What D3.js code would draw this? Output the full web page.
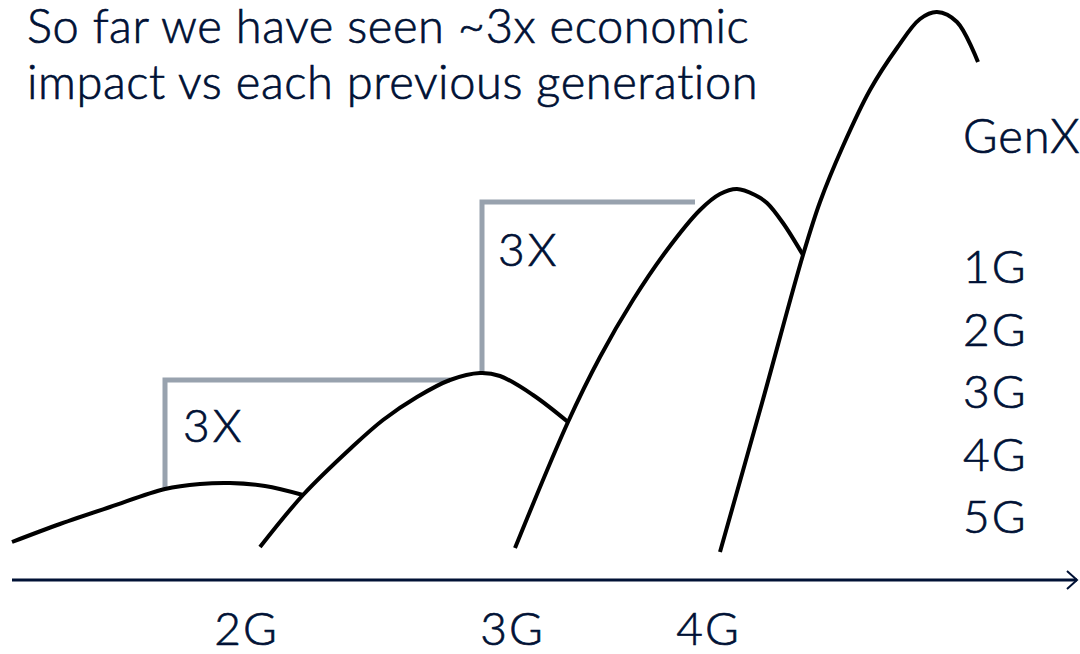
<!DOCTYPE html>
<html>
<head>
<meta charset="utf-8">
<script src="https://cdn.jsdelivr.net/npm/d3@7"></script>
<style>
  html, body { margin: 0; padding: 0; background: #ffffff; }
  svg { display: block; }
  text {
    font-family: Lato, "Open Sans", "Noto Sans", sans-serif;
    font-weight: 300;
    fill: #001135;
    stroke: #001135;
    stroke-width: 0.7px;
  }
</style>
</head>
<body>
<svg id="chart" width="1080" height="654"></svg>
<script>
// Generation waves: [time, economic impact] pairs (arbitrary units)
const wave2G = [[1.2,3.8],[6.0,5.6],[11.0,7.3],[16.5,9.1],[20.0,9.6],[23.0,9.7],[26.5,9.4],[30.3,8.5]];
const wave3G = [[26.0,3.3],[30.3,8.5],[35.0,13.1],[38.3,16.0],[41.7,18.3],[45.0,20.0],[48.0,20.7],[50.0,20.4],[53.3,18.5],[56.8,15.8]];
const wave4G = [[51.5,3.2],[56.8,15.8],[60.0,22.3],[63.3,28.0],[66.7,33.0],[70.0,37.0],[72.0,38.6],[73.7,39.1],[75.5,38.5],[76.7,37.7],[78.3,35.7],[80.3,32.5]];
const wave5G = [[72.0,2.8],[76.2,17.7],[80.3,32.5],[82.0,37.8],[84.3,43.4],[87.0,49.0],[89.7,53.2],[92.0,56.1],[93.7,56.8],[95.7,55.8],[97.8,51.8]];
const waves = [wave2G, wave3G, wave4G, wave5G];

// "3X" step brackets: up from one wave, across to the next
const step1 = [[16.5,9.1],[16.5,20.0],[45.0,20.0]];
const step2 = [[48.2,20.7],[48.2,37.8],[69.5,37.8]];
const steps = [step1, step2];
const stepLabels = ["3X", "3X"];
const stepLabelPos = [[18.3,13.8],[49.8,31.4]];

// Axis generations
const axisGenerations = ["2G", "3G", "4G"];
const axisGenerationX = [24.6, 51.2, 70.8];

// Right-hand list
const listTitle = "GenX";
const listItems = ["1G", "2G", "3G", "4G", "5G"];

const titleLines = ["So far we have seen ~3x economic", "impact vs each previous generation"];

const svg = d3.select("#chart");
const W = 1080, H = 654;

const x = d3.scaleLinear().domain([0, 108]).range([0, W]);
const y = d3.scaleLinear().domain([0, 58]).range([580, 0]);

const navy = "#001135";

// Title
svg.append("g").selectAll("text")
  .data(titleLines)
  .join("text")
  .attr("x", 27)
  .attr("y", (d, i) => 43 + i * 56)
  .attr("font-size", 47)
  .attr("letter-spacing", 0.6)
  .text(d => d);

// Step brackets (drawn beneath the waves)
const stepLine = d3.line().x(d => x(d[0])).y(d => y(d[1]));
svg.append("g").selectAll("path")
  .data(steps)
  .join("path")
  .attr("d", stepLine)
  .attr("fill", "none")
  .attr("stroke", "#98a2ae")
  .attr("stroke-width", 5)
  .attr("stroke-linejoin", "miter");

svg.append("g").selectAll("text")
  .data(stepLabels)
  .join("text")
  .attr("x", (d, i) => x(stepLabelPos[i][0]))
  .attr("y", (d, i) => y(stepLabelPos[i][1]))
  .attr("font-size", 46)
  .attr("letter-spacing", 3)
  .text(d => d);

// Waves
const waveLine = d3.line()
  .x(d => x(d[0]))
  .y(d => y(d[1]))
  .curve(d3.curveCatmullRom.alpha(0.5));
svg.append("g").selectAll("path")
  .data(waves)
  .join("path")
  .attr("d", waveLine)
  .attr("fill", "none")
  .attr("stroke", "#000000")
  .attr("stroke-width", 4);

// Time axis with arrow
const axisY = y(0);
svg.append("line")
  .attr("x1", 12).attr("x2", 1077)
  .attr("y1", axisY).attr("y2", axisY)
  .attr("stroke", navy).attr("stroke-width", 3);
svg.append("path")
  .attr("d", `M1067,${axisY - 9} L1077,${axisY} L1067,${axisY + 9}`)
  .attr("fill", "none").attr("stroke", navy).attr("stroke-width", 2);

const axis = d3.axisBottom(x)
  .tickValues(axisGenerationX)
  .tickFormat((d, i) => axisGenerations[i])
  .tickSize(0)
  .tickPadding(0);
const axisG = svg.append("g")
  .attr("transform", `translate(0,${axisY})`)
  .call(axis);
axisG.select(".domain").remove();
axisG.selectAll("text")
  .attr("font-size", 46)
  .attr("font-family", "Lato, 'Open Sans', sans-serif")
  .attr("font-weight", 300)
  .attr("fill", navy)
  .attr("dy", 0)
  .attr("y", 65)
  .attr("letter-spacing", 2);

// Generation list on the right
svg.append("text")
  .attr("x", 963).attr("y", 153)
  .attr("font-size", 47)
  .attr("letter-spacing", 1)
  .text(listTitle);
svg.append("g").selectAll("text")
  .data(listItems)
  .join("text")
  .attr("x", 963)
  .attr("y", (d, i) => 283 + i * 62.5)
  .attr("font-size", 46)
  .attr("letter-spacing", 2)
  .text(d => d);
</script>
</body>
</html>
